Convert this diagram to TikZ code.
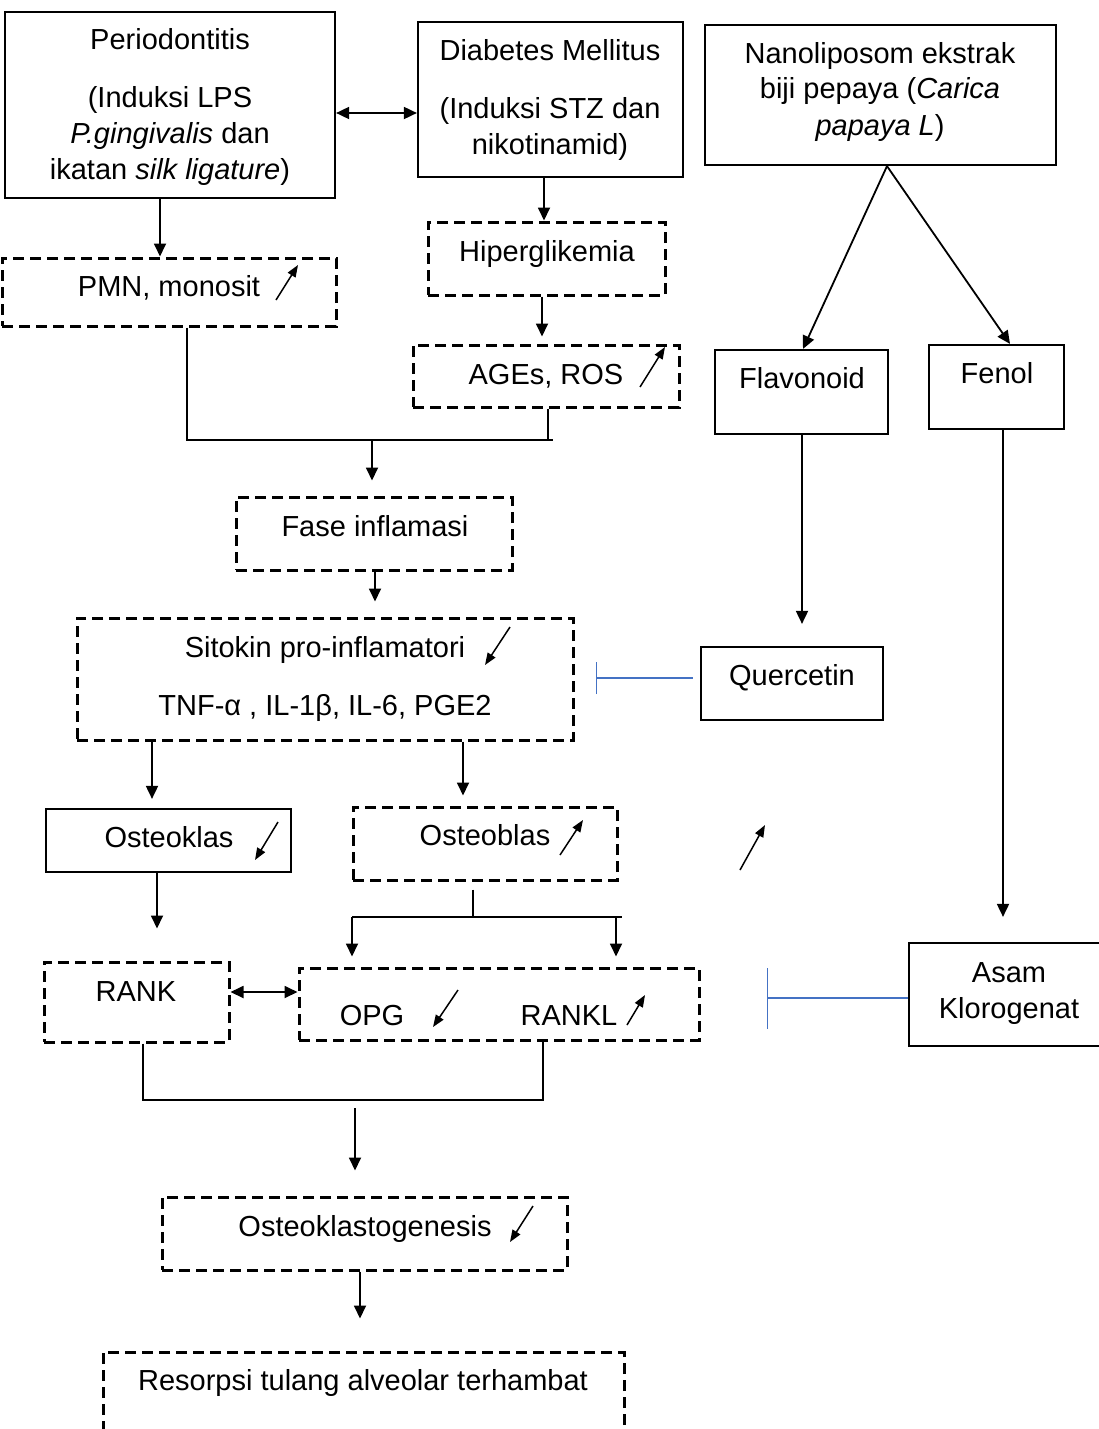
\documentclass[tikz,border=0pt]{standalone}
\usepackage{fontspec}
\setmainfont{Liberation Sans}
\usetikzlibrary{arrows.meta}
\definecolor{inhblue}{RGB}{68,114,196}

\begin{document}
\begin{tikzpicture}[x=1pt, y=-1pt,
font=\fontsize{29}{36}\selectfont,
solidbox/.style={rectangle, draw=black, line width=2.2pt, inner sep=0pt},
dashbox/.style={rectangle, draw=black, line width=3pt, dash pattern=on 11pt off 6pt, inner sep=0pt},
txt/.style={anchor=base, inner sep=0pt, align=center},
line/.style={line width=1.8pt},
conn/.style={-{Triangle[length=13pt,width=12pt]}, line width=1.8pt},
dconn/.style={{Triangle[length=13pt,width=12pt]}-{Triangle[length=13pt,width=12pt]}, line width=1.8pt},
indic/.style={-{Triangle[length=12pt,width=9pt]}, line width=1.5pt},
inhib/.style={-{Bar[width=32pt]}, draw=inhblue, line width=1.6pt},
]
\fill[white] (0,0) rectangle (1099,1429);
\useasboundingbox (0,0) rectangle (1099,1429);
%Boxes
\node[solidbox, minimum width=330, minimum height=186] (perio) at (170,105) {};
\node[solidbox, minimum width=265, minimum height=155] (dm) at (550.5,99.5) {};
\node[solidbox, minimum width=351, minimum height=140] (nano) at (880.5,95) {};
\node[dashbox, minimum width=334, minimum height=68] (pmn) at (169,292) {};
\node[dashbox, minimum width=237, minimum height=73] (hiper) at (546.5,258.5) {};
\node[dashbox, minimum width=266, minimum height=62] (ages) at (546,376) {};
\node[solidbox, minimum width=173, minimum height=84] (flav) at (801.5,392) {};
\node[solidbox, minimum width=135, minimum height=84] (fenol) at (996.5,387) {};
\node[dashbox, minimum width=276, minimum height=73] (fase) at (374,533.5) {};
\node[dashbox, minimum width=496, minimum height=122] (sitokin) at (325,679) {};
\node[solidbox, minimum width=182, minimum height=73] (querc) at (792,683.5) {};
\node[solidbox, minimum width=245, minimum height=63] (oklas) at (168.5,840.5) {};
\node[dashbox, minimum width=264, minimum height=73] (oblas) at (485,843.5) {};
\node[solidbox, minimum width=210, minimum height=103] (asam) at (1014,994.5) {};
\node[dashbox, minimum width=185, minimum height=80] (rank) at (136.5,1002) {};
\node[dashbox, minimum width=400, minimum height=72] (orl) at (499,1004) {};
\node[dashbox, minimum width=405, minimum height=73] (ogen) at (364.5,1233.5) {};
\node[dashbox, minimum width=521, minimum height=130] (resorpsi) at (363.5,1417) {};
%Texts
\node[txt] (perioT) at (170,50) {Periodontitis};
\node[txt] (perioS) at (170,179) {(Induksi LPS\\\textit{P.gingivalis} dan\\ikatan \textit{silk ligature})};
\node[txt] (dmT) at (550,60) {Diabetes Mellitus};
\node[txt] (dmS) at (550,154) {(Induksi STZ dan\\nikotinamid)};
\node[txt] (nanoT) at (880,135) {Nanoliposom ekstrak\\biji pepaya (\textit{Carica}\\\textit{papaya L})};
\node[txt] (pmnT) at (169,296) {PMN, monosit};
\node[txt] (hiperT) at (547,261) {Hiperglikemia};
\node[txt] (agesT) at (546,384) {AGEs, ROS};
\node[txt] (flavT) at (802,388) {Flavonoid};
\node[txt] (fenolT) at (997,383) {Fenol};
\node[txt] (faseT) at (375,536) {Fase inflamasi};
\node[txt] (sitokinT) at (325,657) {Sitokin pro-inflamatori};
\node[txt] (sitokinS) at (325,715) {TNF-α , IL-1β, IL-6, PGE2};
\node[txt] (quercT) at (792,685) {Quercetin};
\node[txt] (oklasT) at (169,847) {Osteoklas};
\node[txt] (oblasT) at (485,845) {Osteoblas};
\node[txt] (asamT) at (1009,1018) {Asam\\Klorogenat};
\node[txt] (rankT) at (136,1001) {RANK};
\node[txt] (opgT) at (372,1025) {OPG};
\node[txt] (ranklT) at (569,1025) {RANKL};
\node[txt] (ogenT) at (365,1236) {Osteoklastogenesis};
\node[txt] (resorpsiT) at (363,1390) {Resorpsi tulang alveolar terhambat};
%Joints
\coordinate (j1l) at (187,440);
\coordinate (j1r) at (553,440);
\coordinate (j1) at (372,440);
\coordinate (j2) at (473,917);
\coordinate (j2l) at (352,917);
\coordinate (j2r) at (622,917);
\coordinate (j2b) at (616,917);
\coordinate (j3l) at (143,1100);
\coordinate (j3r) at (543,1100);
\coordinate (j3) at (355,1100);
%Lines
\draw[dconn] (perio.east |- 0,113) -- (dm.west |- 0,113);
\draw[conn] (perio.south -| 160,0) -- (pmn.north -| 160,0);
\draw[conn] (dm.south -| 544,0) -- (hiper.north -| 544,0);
\draw[conn, shorten >=7pt] (hiper.south -| 542,0) -- (ages.north -| 542,0);
\draw[line] (pmn.south -| j1l) -- (j1l) -- (j1r);
\draw[line] (ages.south -| 548,0) -- (j1r -| 548,0);
\draw[conn, shorten >=15pt] (j1) -- (fase.north -| j1);
\draw[conn, shorten >=15pt] (fase.south -| 375,0) -- (sitokin.north -| 375,0);
\draw[conn, shorten >=9pt] (sitokin.south -| 152,0) -- (oklas.north -| 152,0);
\draw[conn, shorten >=10pt] (sitokin.south -| 463,0) -- (oblas.north -| 463,0);
\draw[conn, shorten >=32pt] (oklas.south -| 157,0) -- (rank.north -| 157,0);
\draw[line, shorten <=8pt] (oblas.south -| j2) -- (j2);
\draw[line] (j2l) -- (j2r);
\draw[conn, shorten >=10pt] (j2l) -- (orl.north -| j2l);
\draw[conn, shorten >=10pt] (j2b) -- (orl.north -| j2b);
\draw[dconn] (rank.east |- 0,992) -- (orl.west |- 0,992);
\draw[line] (rank.south -| j3l) -- (j3l) -- (j3r) -- (orl.south -| j3r);
\draw[conn, shorten <=8pt, shorten >=25pt] (j3) -- (ogen.north -| j3);
\draw[conn, shorten >=32pt] (ogen.south -| 360,0) -- (resorpsi.north -| 360,0);
\draw[conn] (nano.south -| 887,0) -- (flav.north -| 803,0);
\draw[conn] (nano.south -| 887,0) -- (fenol.north -| 1010,0);
\draw[conn, shorten >=22pt] (flav.south -| 802,0) -- (querc.north -| 802,0);
\draw[conn, shorten >=25pt] (fenol.south -| 1003,0) -- (asam.north -| 1003,0);
\draw[inhib, shorten <=7pt, shorten >=21pt] (querc.west |- 0,678) -- (sitokin.east |- 0,678);
\draw[inhib, -{Bar[width=61pt]}, shorten >=66pt] (asam.west |- 0,998) -- (orl.east |- 0,998);
%Up and down
\draw[indic] (276,300) -- (298,265);
\draw[indic] (640,387) -- (665,347);
\draw[indic] (510,627) -- (485,665);
\draw[indic] (278,822) -- (255,860);
\draw[indic] (560,855) -- (583,820);
\draw[indic] (740,870) -- (765,825);
\draw[indic] (458,990) -- (433,1027);
\draw[indic] (627,1025) -- (645,995);
\draw[indic] (533,1206) -- (510,1242);
\end{tikzpicture}
\end{document}
